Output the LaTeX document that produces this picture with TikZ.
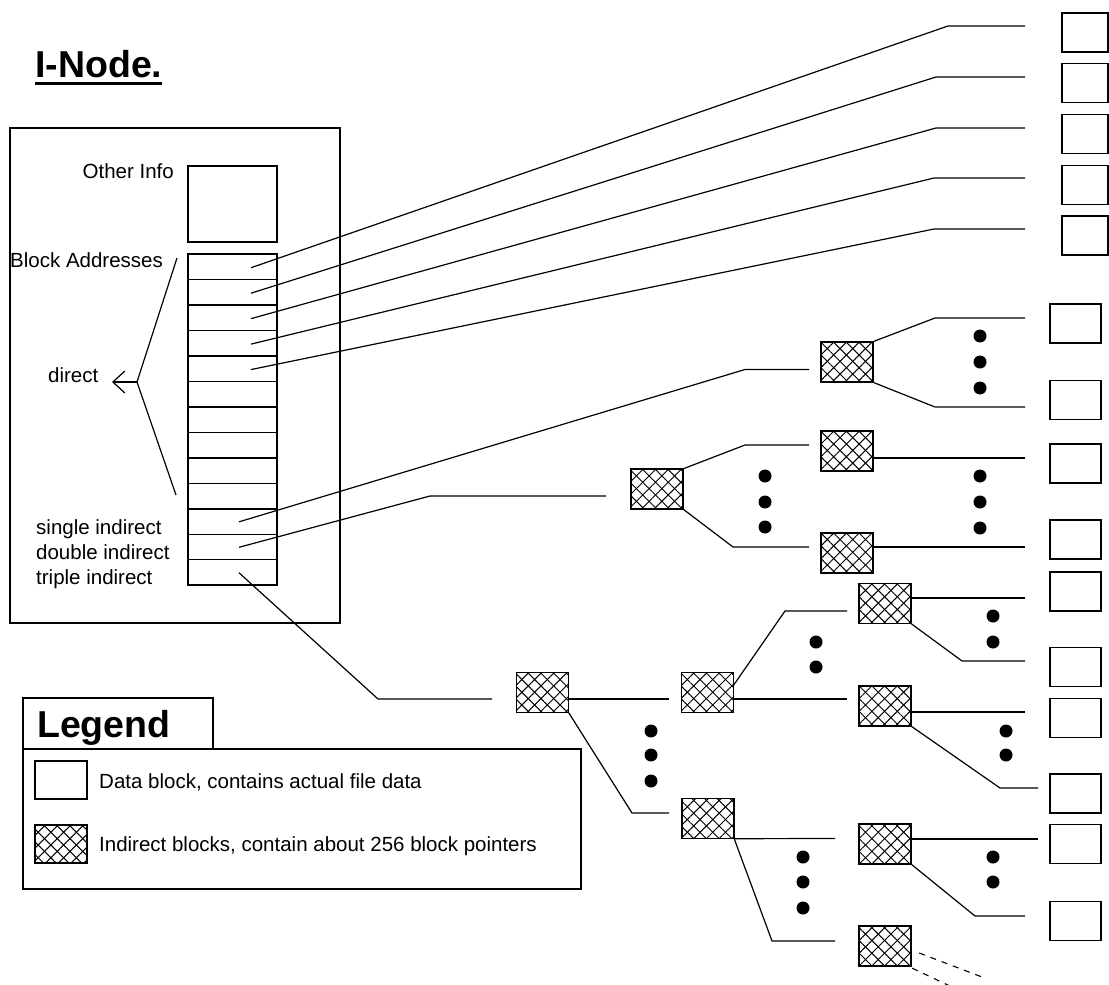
\documentclass[tikz,border=0pt]{standalone}
\usepackage{fontspec}
\setmainfont{Liberation Sans}
\usetikzlibrary{calc,arrows.meta,patterns.meta}

\tikzset{
  lbl/.style={inner sep=0pt, font=\fontsize{20.5}{24}\selectfont},
  heading/.style={inner sep=0pt, font=\fontsize{37.5}{44}\selectfont\bfseries},
  frame/.style={draw, line width=1.4pt, inner sep=0pt},
  slot/.style={inner sep=0pt, minimum width=89pt, minimum height=25.46pt},
  datablk/.style={draw, line width=1.6pt, minimum width=51pt, minimum height=39pt, inner sep=0pt},
  indblk/.style={inner sep=0pt, minimum width=52pt, minimum height=40pt,
    pattern={Lines[angle=45,distance=9pt,line width=1pt]},
    postaction={pattern={Lines[angle=-45,distance=9pt,line width=1pt]}},
    postaction={draw, line width=1.6pt}},
  wire/.style={line width=1.2pt},
  ellip/.style={fill, circle, inner sep=0pt, minimum size=13pt},
  trail/.style={line width=1.1pt, dash pattern=on 6pt off 6pt},
}

\begin{document}
\begin{tikzpicture}[x=1pt,y=-1pt]
\useasboundingbox (0,0) rectangle (1109,985);

% ---------- title ----------
\node[heading, anchor=base west] (title) at (35,77) {I-Node.};
\draw[line width=3pt] ($(title.base west)+(0,6)$) -- ($(title.base east)+(0,6)$);

% ---------- i-node ----------
\node[frame, minimum width=330pt, minimum height=495pt] (inode) at (175,375.5) {};
\node[frame, minimum width=89pt, minimum height=76pt] (info) at (232.5,204) {};
\node[lbl, anchor=base east] (oinfo) at (174,178) {Other Info};
\node[lbl, anchor=base west] (baddr) at (10,267) {Block Addresses};
% address table: 13 slots in one frame
\foreach \i in {1,...,13}
  \node[slot] (r\i) at (232.5,{254+25.46*(\i-0.5)}) {};
\node[frame, minimum width=89pt, minimum height=331pt] (table) at (232.5,419.5) {};
\foreach \i in {1,...,12}
  \draw[line width=1.4pt] (r\i.south west) -- (r\i.south east);
\node[lbl, anchor=base west] (ldirect) at (48,382) {direct};
\node[lbl, anchor=base west] (lsingle) at (36,534) {single indirect};
\node[lbl, anchor=base west] (ldouble) at (36,559) {double indirect};
\node[lbl, anchor=base west] (ltriple) at (36,584) {triple indirect};

% brace for the direct entries
\coordinate (bt) at (177,258);
\coordinate (bk) at (137,382);
\coordinate (bb) at (176,495);
\coordinate (tip) at (112,382);
\draw[wire] (bt) -- (bk) -- (bb);
\draw[wire, -{Straight Barb[length=12pt,width=22pt]}] (bk) -- (tip);

% ---------- data blocks ----------
\foreach \n/\y in {d1/32.5, d2/83, d3/134, d4/185, d5/235.5}
  \node[datablk, minimum width=46pt] (\n) at (1085,\y) {};
\foreach \n/\y in {e1/323.5, e2/400, e3/463.5, e4/539.5, e5/591.5, e6/667,
                   e7/718, e8/793.5, e9/844, e10/921}
  \node[datablk] (\n) at (1075.5,\y) {};

% ---------- indirect blocks ----------
\node[indblk] (I1) at (847,362) {};
\node[indblk] (D) at (657,489) {};
\node[indblk] (D1) at (847,451) {};
\node[indblk] (D2) at (847,553) {};
\node[indblk] (T) at (542.5,692.5) {};
\node[indblk] (T1) at (707.5,692.5) {};
\node[indblk] (T2) at (708,818.5) {};
\node[indblk] (T1a) at (885,603.5) {};
\node[indblk] (T1b) at (885,706) {};
\node[indblk] (T2a) at (885,844) {};
\node[indblk] (T2b) at (885,946) {};

% ---------- direct pointers ----------
\foreach \i/\kx/\ky in {1/948/26, 2/936/77, 3/936/128, 4/934/178, 5/934/229}{
  \coordinate (s\i) at ($(r\i.center)+(18.5,1)$);
  \coordinate (k\i) at (\kx,\ky);
  \coordinate (f\i) at (1025,\ky);
  \draw[wire] (s\i) -- (k\i) -- (f\i);
}

% ---------- single indirect ----------
\coordinate (ss) at ($(r11.center)+(6.5,0.5)$);
\coordinate (ssk) at (745,369.5);
\coordinate (ssf) at (809,369.5);
\draw[wire] (ss) -- (ssk) -- (ssf);
\coordinate (i1k) at (935,318);  \coordinate (i1f) at (1025,318);
\coordinate (i2k) at (935,407);  \coordinate (i2f) at (1025,407);
\draw[wire] (I1.north east) -- (i1k) -- (i1f);
\draw[wire] (I1.south east) -- (i2k) -- (i2f);

% ---------- double indirect ----------
\coordinate (sd) at ($(r12.center)+(6.5,0.5)$);
\coordinate (sdk) at (430,496);
\coordinate (sdf) at (606,496);
\draw[wire] (sd) -- (sdk) -- (sdf);
\coordinate (dak) at (745,445);  \coordinate (daf) at (809,445);
\coordinate (dbk) at (733,547);  \coordinate (dbf) at (809,547);
\draw[wire] (D.north east) -- (dak) -- (daf);
\draw[wire] (D.south east) -- (dbk) -- (dbf);
\coordinate (d1f) at (1025,458);
\coordinate (d2f) at (1025,547);
\draw[wire] ($(D1.east)+(0,7)$) -- (d1f);
\draw[wire] ($(D2.east)+(0,-6)$) -- (d2f);

% ---------- triple indirect ----------
\coordinate (st) at ($(r13.center)+(6.5,0.5)$);
\coordinate (stk) at (378,699);
\coordinate (stf) at (492,699);
\draw[wire] (st) -- (stk) -- (stf);
\coordinate (taf) at (669,699);
\coordinate (tbk) at (632,813);  \coordinate (tbf) at (669,813);
\draw[wire] ($(T.east)+(0,6.5)$) -- (taf);
\draw[wire] (T.south east) -- (tbk) -- (tbf);

\coordinate (t1ak) at (785,611); \coordinate (t1af) at (847,611);
\coordinate (t1bf) at (847,699);
\draw[wire] ($(T1.east)+(0,-7.5)$) -- (t1ak) -- (t1af);
\draw[wire] ($(T1.east)+(0,6.5)$) -- (t1bf);

\coordinate (t2af) at (835,838.5);
\coordinate (t2bk) at (772,941); \coordinate (t2bf) at (835,941);
\draw[wire] (T2.south east) -- (t2af);
\draw[wire] (T2.south east) -- (t2bk) -- (t2bf);

\coordinate (q1f) at (1025,598);
\coordinate (q2k) at (962,661);  \coordinate (q2f) at (1025,661);
\draw[wire] ($(T1a.east)+(0,-5.5)$) -- (q1f);
\draw[wire] (T1a.south east) -- (q2k) -- (q2f);

\coordinate (q3f) at (1025,712);
\coordinate (q4k) at (1000,788); \coordinate (q4f) at (1038,788);
\draw[wire] ($(T1b.east)+(0,6)$) -- (q3f);
\draw[wire] (T1b.south east) -- (q4k) -- (q4f);

\coordinate (q5f) at (1038,839);
\coordinate (q6k) at (975,916);  \coordinate (q6f) at (1025,916);
\draw[wire] ($(T2a.east)+(0,-5)$) -- (q5f);
\draw[wire] (T2a.south east) -- (q6k) -- (q6f);

\coordinate (x1f) at (982,977);
\coordinate (x2f) at (952,987);
\draw[trail] ($(T2b.east)+(8,7)$) -- (x1f);
\draw[trail] ($(T2b.south east)+(1,2)$) -- (x2f);

% ---------- ellipsis dots ----------
\foreach \n/\x/\y in {a1/980/336, a2/980/362, a3/980/388,
                      b1/765/476, b2/765/502, b3/765/527,
                      c1/980/476, c2/980/502, c3/980/528,
                      g1/651/731, g2/651/755, g3/651/781,
                      h1/816/642, h2/816/667,
                      m1/993/616, m2/993/642,
                      n1/1006/731, n2/1006/755,
                      o1/803/857, o2/803/882, o3/803/908,
                      p1/993/857, p2/993/882}
  \node[ellip] (dot\n) at (\x,\y) {};

% ---------- legend ----------
\node[frame, minimum width=190pt, minimum height=51pt] (legtab) at (118,723.5) {};
\node[frame, minimum width=558pt, minimum height=140pt] (legbox) at (302,819) {};
\node[heading, anchor=base west] (legtitle) at (37,737) {Legend};
\node[datablk, minimum width=52pt, minimum height=38pt] (keydata) at (61,780) {};
\node[indblk, minimum height=38pt] (keyind) at (61,844) {};
\node[lbl, anchor=base west] (keydatatxt) at (99,788) {Data block, contains actual file data};
\node[lbl, anchor=base west] (keyindtxt) at (99,851) {Indirect blocks, contain about 256 block pointers};
\end{tikzpicture}
\end{document}
